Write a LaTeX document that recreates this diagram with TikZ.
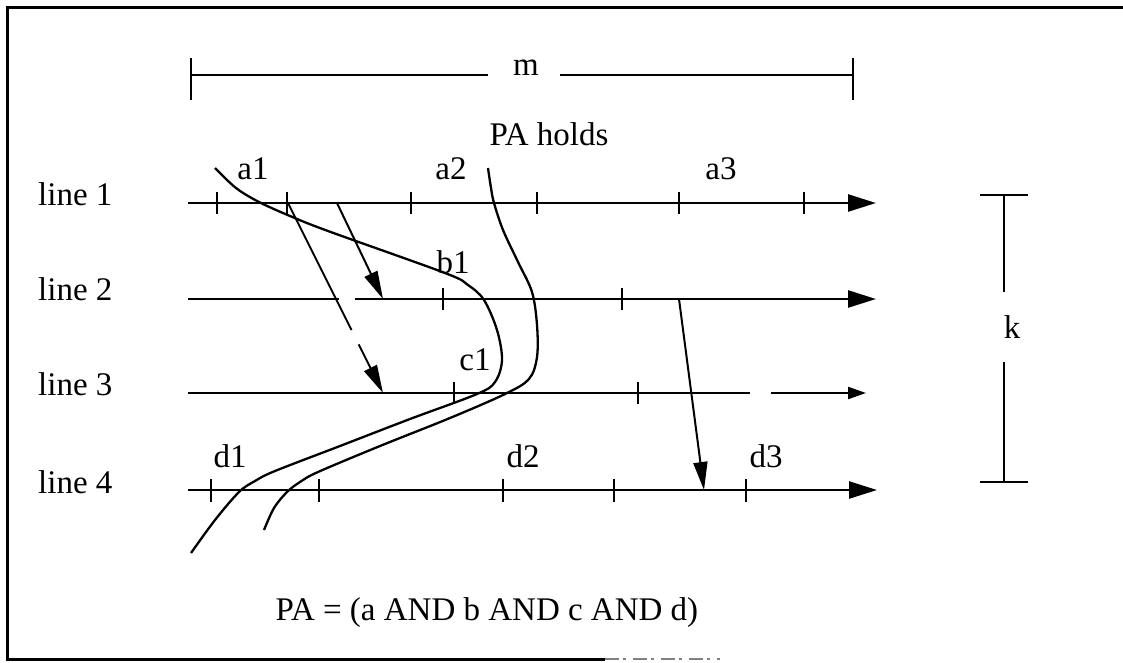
\documentclass[tikz,border=0pt]{standalone}
\usepackage{fontspec}
\setmainfont{Liberation Serif}
\usetikzlibrary{arrows.meta}
\begin{document}
\begin{tikzpicture}[x=1pt,y=-1pt,
  lbl/.style={font=\fontsize{33}{38}\selectfont, inner sep=0pt, anchor=base},
  axisline/.style={line width=2.5pt},
  axisarrow/.style={line width=2.5pt, -{Triangle[length=28pt,width=17pt]}},
  tk/.style={line width=1.6pt},
  crv/.style={line width=2.3pt},
  drop/.style={line width=2pt, -{Triangle[length=28pt,width=14pt]}},
  bar/.style={line width=2pt},
]
\useasboundingbox (0,0) rectangle (1123,662);
% frame
\draw[line width=3pt] (1123,7) -- (7,7) -- (7,659) -- (605,659);
\draw[line width=2pt, gray, dash pattern=on 14pt off 4pt on 3pt off 7pt] (605,659) -- (720,659);

% m dimension
\coordinate (mL) at (191,75); \coordinate (mR) at (853,75);
\coordinate (mLa) at (488,75); \coordinate (mRa) at (560,75);
\draw[bar] (191,58) -- (191,100);
\draw[bar] (853,58) -- (853,100);
\draw[bar] (mL) -- (mLa);
\draw[bar] (mRa) -- (mR);
\node[lbl] (m) at (526,75) {m};
\node[lbl] (holds) at (549,145) {PA holds};

% k dimension
\draw[bar] (980,195) -- (1028,195);
\draw[bar] (1004,195) -- (1004,292);
\draw[bar] (1004,362) -- (1004,482);
\draw[bar] (980,482) -- (1028,482);
\node[lbl] (k) at (1012,338) {k};

% line labels
\node[lbl, anchor=base west] (l1) at (38,205) {line 1};
\node[lbl, anchor=base west] (l2) at (38,300) {line 2};
\node[lbl, anchor=base west] (l3) at (38,395) {line 3};
\node[lbl, anchor=base west] (l4) at (38,493) {line 4};

% time lines
\coordinate (s1) at (188,203); \coordinate (e1) at (876,203);
\coordinate (s2) at (188,299); \coordinate (g2a) at (339,299); \coordinate (g2b) at (355,299); \coordinate (e2) at (876,299);
\coordinate (s3) at (188,393); \coordinate (g3a) at (750,393); \coordinate (g3b) at (771,393); \coordinate (e3) at (866,393);
\coordinate (s4) at (188,490); \coordinate (e4) at (877,490);
\draw[axisarrow] (s1) -- (e1);
\draw[axisline] (s2) -- (g2a);
\draw[axisarrow] (g2b) -- (e2);
\draw[axisline] (s3) -- (g3a);
\draw[line width=2.2pt, -{Triangle[length=18pt,width=12pt]}] (g3b) -- (e3);
\draw[axisarrow] (s4) -- (e4);

% ticks
\foreach \x in {217,287,411,537,679,804} \draw[tk] (\x,192) -- (\x,214);
\foreach \x in {443,622} \draw[tk] (\x,288) -- (\x,310);
\foreach \x in {454,638} \draw[tk] (\x,382) -- (\x,404);
\foreach \x in {211,319,503,614,746} \draw[tk] (\x,479) -- (\x,502);

% event labels
\node[lbl] (a1) at (253,179) {a1};
\node[lbl] (a2) at (451,179) {a2};
\node[lbl] (a3) at (721,179) {a3};
\node[lbl] (b1) at (453,273) {b1};
\node[lbl] (c1) at (475,370) {c1};
\node[lbl] (d1) at (230,467) {d1};
\node[lbl] (d2) at (523,467) {d2};
\node[lbl] (d3) at (766,467) {d3};

% cut curves
\draw[crv] plot[smooth, tension=0.55] coordinates {
  (215,168) (236,188) (259,202) (290,216) (328,231) (445,273) (468,285)
  (484,300) (497,330) (502,360) (495,382) (477,394) (410,419) (340,446)
  (275,471) (255,481) (239,492) (215,520) (191,553)};
\draw[crv] plot[smooth, tension=0.55] coordinates {
  (488,168) (491,188) (494,203) (503,230) (518,262) (532,292) (537,325)
  (537,357) (529,379) (505,394) (450,418) (380,446) (318,472) (300,482)
  (287,492) (274,508) (264,530)};

% message arrows
\coordinate (p1) at (337,203); \coordinate (q1) at (383,299);
\coordinate (p2) at (288,203); \coordinate (q2) at (383,393);
\coordinate (p3) at (679,299); \coordinate (q3) at (704,490);
\draw[drop] (p1) -- (q1);
\draw[drop, dash pattern=on 142pt off 16pt on 90pt] (p2) -- (q2);
\draw[drop] (p3) -- (q3);

% formula
\node[lbl] (formula) at (487,620) {PA = (a AND b AND c AND d)};
\end{tikzpicture}
\end{document}
